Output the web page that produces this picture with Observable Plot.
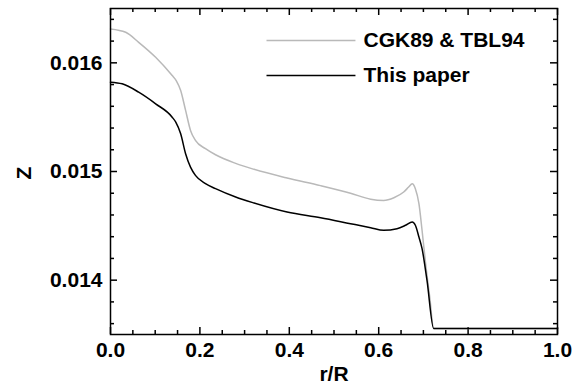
<!DOCTYPE html>
<html>
<head>
<meta charset="utf-8">
<script src="https://cdn.jsdelivr.net/npm/d3@7"></script>
<script src="https://cdn.jsdelivr.net/npm/@observablehq/plot@0.6"></script>
<style>
  html, body { margin: 0; padding: 0; background: #fff; }
  #chart svg { display: block; }
</style>
</head>
<body>
<div id="chart"></div>
<script>
// ---- Data ----
const xGray = [0, 0.034, 0.063, 0.101, 0.138, 0.147, 0.157, 0.168, 0.179, 0.190, 0.2125, 0.235, 0.28, 0.321, 0.395, 0.47, 0.537, 0.582, 0.611, 0.634, 0.656, 0.667, 0.675, 0.682, 0.690, 0.697, 0.705, 0.714, 0.723, 1.0];
const zGray = [0.016312, 0.016281, 0.016189, 0.016051, 0.015883, 0.015837, 0.015745, 0.015562, 0.015378, 0.015286, 0.015210, 0.015154, 0.015075, 0.015020, 0.014940, 0.014870, 0.014800, 0.014745, 0.014734, 0.014759, 0.014811, 0.014857, 0.014888, 0.014842, 0.014704, 0.014459, 0.014150, 0.013850, 0.013555, 0.013555];

const xBlack = [0, 0.026, 0.063, 0.101, 0.138, 0.146, 0.157, 0.168, 0.179, 0.190, 0.2125, 0.235, 0.28, 0.321, 0.395, 0.47, 0.537, 0.582, 0.611, 0.641, 0.660, 0.675, 0.682, 0.690, 0.697, 0.708, 0.723, 1.0];
const zBlack = [0.015822, 0.015807, 0.015730, 0.015623, 0.015500, 0.015454, 0.015347, 0.015164, 0.015040, 0.014964, 0.014888, 0.014842, 0.014765, 0.014710, 0.014627, 0.014575, 0.014520, 0.014483, 0.014459, 0.014474, 0.014505, 0.014535, 0.014505, 0.014397, 0.014290, 0.014000, 0.013555, 0.013555];

const seriesNames = ["CGK89 & TBL94", "This paper"];
const seriesColors = ["#b9b9b9", "#000000"];

const xMajorTicks = [0, 0.2, 0.4, 0.6, 0.8, 1.0];
const xMinorTicks = [0.05, 0.1, 0.15, 0.25, 0.3, 0.35, 0.45, 0.5, 0.55, 0.65, 0.7, 0.75, 0.85, 0.9, 0.95];
const yMajorTicks = [0.014, 0.015, 0.016];
const yMinorTicks = [0.0136, 0.0138, 0.0142, 0.0144, 0.0146, 0.0148, 0.0152, 0.0154, 0.0156, 0.0158, 0.0162, 0.0164];

const xLabel = "r/R";
const yLabel = "Z";

// ---- Build tables ----
const gray = xGray.map((x, i) => ({x, z: zGray[i]}));
const black = xBlack.map((x, i) => ({x, z: zBlack[i]}));

// ---- Layout constants ----
const W = 584, H = 385;
const mL = 110, mR = 27, mT = 8, mB = 51;
const fw = W - mL - mR, fh = H - mT - mB;
const majorLen = 7, minorLen = 4;
const font = 21;

// legend layout (in data units, inside the frame)
const legX1 = 0.349, legX2 = 0.548, legTextX = 0.566;
const legY = [0.016205, 0.015883];
const legend = seriesNames.map((name, i) => ({name, color: seriesColors[i], y: legY[i]}));

const chart = Plot.plot({
  width: W,
  height: H,
  marginLeft: mL,
  marginRight: mR,
  marginTop: mT,
  marginBottom: mB,
  style: {fontFamily: "'Liberation Sans', Arial, sans-serif", color: "#000", background: "#fff"},
  x: {domain: [0, 1]},
  y: {domain: [0.0135, 0.0165]},
  marks: [
    Plot.axisX(xMajorTicks, {tickSize: 0, tickPadding: 8, tickFormat: d3.format(".1f"), fontSize: font, fontWeight: "bold", label: null}),
    Plot.axisY(yMajorTicks, {tickSize: 0, tickPadding: 8, tickFormat: d3.format(".3f"), fontSize: font, fontWeight: "bold", label: null}),
    // inward ticks, all four sides
    Plot.ruleX(xMajorTicks, {insetTop: fh - majorLen, stroke: "#000", strokeWidth: 1.5}),
    Plot.ruleX(xMajorTicks, {insetBottom: fh - majorLen, stroke: "#000", strokeWidth: 1.5}),
    Plot.ruleX(xMinorTicks, {insetTop: fh - minorLen, stroke: "#000", strokeWidth: 1.5}),
    Plot.ruleX(xMinorTicks, {insetBottom: fh - minorLen, stroke: "#000", strokeWidth: 1.5}),
    Plot.ruleY(yMajorTicks, {insetRight: fw - majorLen, stroke: "#000", strokeWidth: 1.5}),
    Plot.ruleY(yMajorTicks, {insetLeft: fw - majorLen, stroke: "#000", strokeWidth: 1.5}),
    Plot.ruleY(yMinorTicks, {insetRight: fw - minorLen, stroke: "#000", strokeWidth: 1.5}),
    Plot.ruleY(yMinorTicks, {insetLeft: fw - minorLen, stroke: "#000", strokeWidth: 1.5}),
    // curves
    Plot.line(gray, {x: "x", y: "z", stroke: seriesColors[0], strokeWidth: 1.5, curve: "monotone-x"}),
    Plot.line(black, {x: "x", y: "z", stroke: seriesColors[1], strokeWidth: 1.5, curve: "monotone-x"}),
    // legend
    Plot.link(legend, {x1: () => legX1, x2: () => legX2, y1: "y", y2: "y", stroke: "color", strokeWidth: 1.5}),
    Plot.text(legend, {x: () => legTextX, y: "y", text: "name", textAnchor: "start", fontSize: font, fontWeight: "bold", fill: "#000"}),
    // axis titles
    Plot.text([xLabel], {frameAnchor: "bottom", lineAnchor: "top", dy: 32, fontSize: font, fontWeight: "bold", fill: "#000"}),
    Plot.text([yLabel], {frameAnchor: "left", dx: -86.5, dy: 8, rotate: -90, fontSize: font, fontWeight: "bold", fill: "#000"}),
    Plot.frame({stroke: "#000", strokeWidth: 1.5})
  ]
});
document.getElementById("chart").appendChild(chart);
</script>
</body>
</html>
